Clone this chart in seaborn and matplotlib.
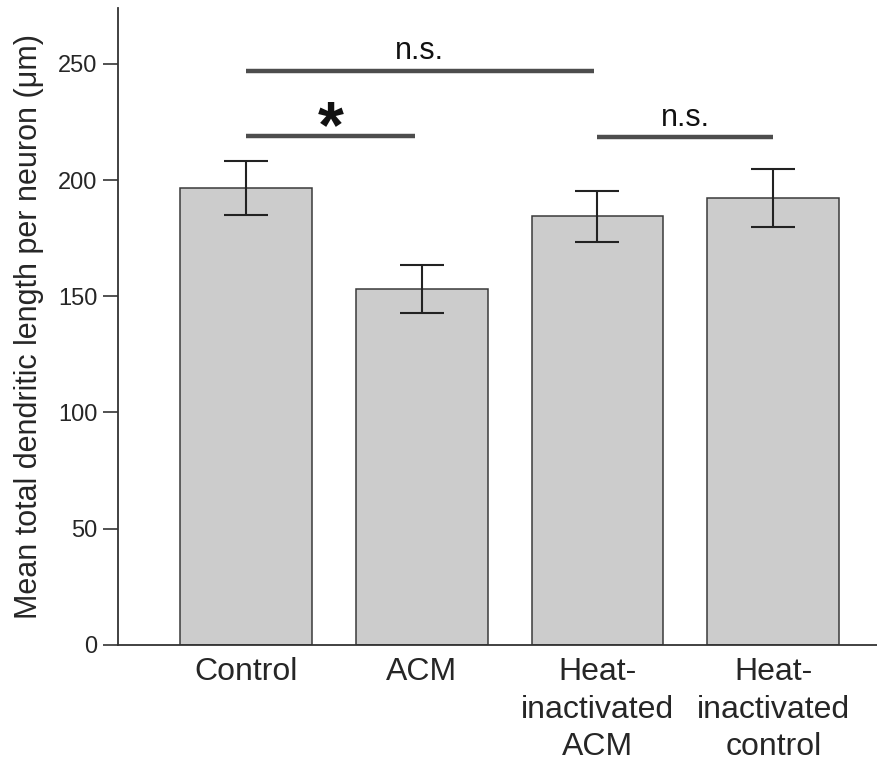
import matplotlib
matplotlib.use("Agg")
import matplotlib.pyplot as plt
import seaborn as sns
import numpy as np

categories = ["Control", "ACM", "Heat-\ninactivated\nACM", "Heat-\ninactivated\ncontrol"]
means = [196.6, 153.1, 184.4, 192.3]
sem = [11.5, 10.4, 11.0, 12.4]
yticks = [0, 50, 100, 150, 200, 250]
ylabel = "Mean total dendritic length per neuron (\u03bcm)"
# significance brackets: (start index, end index, height, label)
brackets = [(0, 0.96, 219.0, "*"), (0, 1.98, 247.1, "n.s."), (2, 3, 218.3, "n.s.")]

sns.set_style("ticks")
plt.rcParams["font.family"] = ["Liberation Sans", "DejaVu Sans"]

fig = plt.figure(figsize=(8.77, 7.66), dpi=100)
ax = fig.add_axes([0.1351, 0.158, 0.8649, 0.8316])

sns.barplot(x=categories, y=means, color="#cccccc", saturation=1, width=0.75,
            edgecolor="#3a3a3a", linewidth=1.1, ax=ax, zorder=2)
ax.errorbar(x=np.arange(len(categories)), y=means, yerr=sem, fmt="none",
            ecolor="#222222", elinewidth=1.5, capsize=15.5, capthick=1.5, zorder=3)

for x0, x1, h, lab in brackets:
    ax.plot([x0, x1], [h, h], color="#4d4d4d", lw=3.2, solid_capstyle="butt", zorder=4)
    if lab == "*":
        ax.text((x0 + x1) / 2, h - 5, lab, ha="center", va="baseline",
                fontsize=48, fontweight="bold", color="#111111")
    else:
        ax.text((x0 + x1) / 2, h + 5, lab, ha="center", va="baseline",
                fontsize=22, color="#111111")

ax.set_xlim(-0.725, 3.59)
ax.set_ylim(0, 274)
ax.set_yticks(yticks)
ax.set_yticklabels([str(t) for t in yticks], fontsize=17)
ax.tick_params(axis="y", length=11, width=1.2, color="#333333", pad=4)
ax.tick_params(axis="x", length=0, pad=9)
ax.set_xticks(np.arange(len(categories)))
ax.set_xticklabels(categories, fontsize=23, linespacing=1.32)
ax.set_ylabel(ylabel, fontsize=22, labelpad=10)
ax.set_xlabel("")
sns.despine(ax=ax)
for s in ["left", "bottom"]:
    ax.spines[s].set_color("#333333")
    ax.spines[s].set_linewidth(1.3)

fig.savefig("out.png", dpi=100)
